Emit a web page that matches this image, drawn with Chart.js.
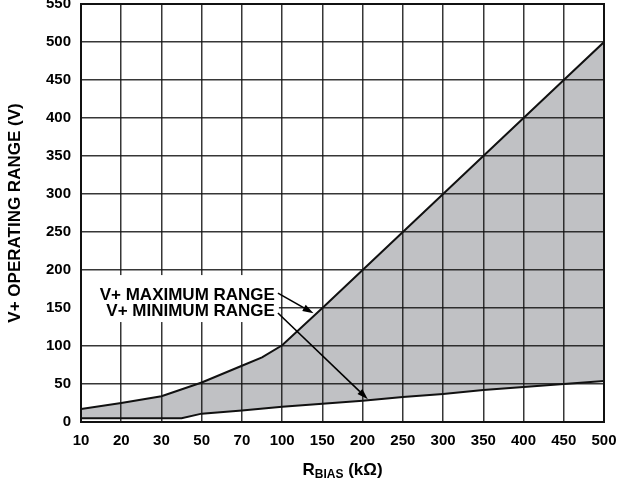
<!DOCTYPE html>
<html>
<head>
<meta charset="utf-8">
<script src="https://cdn.jsdelivr.net/npm/chart.js@4.4.1/dist/chart.umd.min.js"></script>
<style>
    html, body { margin: 0; padding: 0; background: #fff; }
</style>
</head>
<body>
<canvas id="rangeChart" width="618" height="488"></canvas>
<script>
// x axis tick labels, RBIAS in kOhm (evenly spaced on the chart)
const rBiasTicks = [10, 20, 30, 50, 70, 100, 150, 200, 250, 300, 350, 400, 450, 500];

// V+ maximum range: where it sits along the axis (in tick steps) and volts
const maxRangeAt = [0, 1, 2, 3, 4, 4.5, 5, 6, 7, 8, 9, 10, 11, 12, 13];
const maxRangeV = [17, 25, 34, 52, 74, 85, 101, 150, 200, 250, 300, 350, 400, 450, 500];

// V+ minimum range
const minRangeAt = [0, 1, 2, 2.5, 3, 4, 5, 6, 7, 8, 9, 10, 11, 12, 13];
const minRangeV = [5, 5, 5, 5, 11, 15, 20, 24, 28, 33, 37, 42, 46, 50, 54];

const FONT = '"Liberation Sans", Arial, sans-serif';

function toPoints(at, v) {
    return at.map((a, i) => ({ x: a, y: v[i] }));
}

// arrow from (x1,y1) to (x2,y2) with a filled head
function arrow(ctx, x1, y1, x2, y2) {
    const ang = Math.atan2(y2 - y1, x2 - x1);
    const len = 11, half = 3.5;
    ctx.beginPath();
    ctx.moveTo(x1, y1);
    ctx.lineTo(x2 - Math.cos(ang) * len, y2 - Math.sin(ang) * len);
    ctx.stroke();
    ctx.beginPath();
    ctx.moveTo(x2, y2);
    ctx.lineTo(x2 - Math.cos(ang) * len - Math.sin(ang) * half, y2 - Math.sin(ang) * len + Math.cos(ang) * half);
    ctx.lineTo(x2 - Math.cos(ang) * len + Math.sin(ang) * half, y2 - Math.sin(ang) * len - Math.cos(ang) * half);
    ctx.closePath();
    ctx.fill();
}

const annotations = {
    id: 'annotations',
    afterDraw(chart) {
        const { ctx, chartArea: a, scales: { x, y } } = chart;
        ctx.save();

        // labels with a white box behind them
        const textRight = x.getPixelForValue(4.82);
        const maxY = y.getPixelForValue(167);
        const minY = y.getPixelForValue(146);
        ctx.fillStyle = '#fff';
        ctx.fillRect(a.left + 1, maxY - 20, textRight + 3 - a.left, minY - maxY + 31);

        ctx.fillStyle = '#000';
        ctx.font = 'bold 17px ' + FONT;
        ctx.textAlign = 'right';
        ctx.textBaseline = 'middle';
        ctx.fillText('V+ MAXIMUM RANGE', textRight, maxY);
        ctx.fillText('V+ MINIMUM RANGE', textRight, minY);

        ctx.strokeStyle = '#000';
        ctx.lineWidth = 1.6;
        arrow(ctx, textRight + 3, maxY - 2, x.getPixelForValue(5.78), y.getPixelForValue(143));
        arrow(ctx, textRight + 3, minY + 2, x.getPixelForValue(7.13), y.getPixelForValue(30));

        // frame
        ctx.lineWidth = 2;
        ctx.strokeStyle = '#111';
        ctx.strokeRect(a.left, a.top, a.right - a.left, a.bottom - a.top);

        // y axis title
        ctx.save();
        ctx.translate(15, (a.top + a.bottom) / 2);
        ctx.rotate(-Math.PI / 2);
        ctx.textAlign = 'center';
        ctx.textBaseline = 'middle';
        ctx.font = 'bold 17px ' + FONT;
        ctx.fillText('V+ OPERATING RANGE (V)', 0, 0);
        ctx.restore();

        // x axis title: R with subscript BIAS
        const big = 'bold 17px ' + FONT, small = 'bold 12px ' + FONT;
        ctx.textAlign = 'left';
        ctx.textBaseline = 'alphabetic';
        ctx.font = big;
        const wR = ctx.measureText('R').width;
        const wTail = ctx.measureText(' (kΩ)').width;
        ctx.font = small;
        const wSub = ctx.measureText('BIAS').width;
        let tx = (a.left + a.right) / 2 - (wR + wSub + wTail) / 2;
        const base = 475;
        ctx.font = big;
        ctx.fillText('R', tx, base);
        tx += wR;
        ctx.font = small;
        ctx.fillText('BIAS', tx, base + 3);
        tx += wSub;
        ctx.font = big;
        ctx.fillText(' (kΩ)', tx, base);

        ctx.restore();
    }
};

const gridOpts = {
    color: 'rgba(20,20,20,0.85)',
    lineWidth: 1.5,
    drawTicks: false,
    z: 1
};

new Chart(document.getElementById('rangeChart').getContext('2d'), {
    type: 'line',
    data: {
        datasets: [
            {
                label: 'V+ MINIMUM RANGE',
                data: toPoints(minRangeAt, minRangeV),
                borderColor: '#111',
                borderWidth: 2,
                fill: false
            },
            {
                label: 'V+ MAXIMUM RANGE',
                data: toPoints(maxRangeAt, maxRangeV),
                borderColor: '#111',
                borderWidth: 2,
                backgroundColor: '#c0c1c4',
                fill: '-1'
            }
        ]
    },
    options: {
        responsive: false,
        animation: false,
        layout: { padding: { top: 4, right: 14, left: 0, bottom: 0 } },
        elements: { point: { radius: 0 }, line: { tension: 0 } },
        plugins: {
            legend: { display: false },
            tooltip: { enabled: false }
        },
        scales: {
            x: {
                type: 'linear',
                min: 0,
                max: rBiasTicks.length - 1,
                afterBuildTicks: s => { s.ticks = rBiasTicks.map((_, i) => ({ value: i })); },
                afterFit: s => {
                    s.height = 66;
                    s.paddingLeft = 0;
                    s.paddingRight = 0;
                },
                ticks: {
                    autoSkip: false,
                    maxRotation: 0,
                    padding: 10,
                    color: '#000',
                    font: { family: FONT, size: 15, weight: 'bold' },
                    callback: v => rBiasTicks[v]
                },
                grid: gridOpts,
                border: { display: false }
            },
            y: {
                min: 0,
                max: 550,
                afterFit: s => {
                    s.width = 81;
                    s.paddingTop = 0;
                    s.paddingBottom = 0;
                },
                ticks: {
                    stepSize: 50,
                    padding: 10,
                    color: '#000',
                    font: { family: FONT, size: 15, weight: 'bold' }
                },
                grid: gridOpts,
                border: { display: false }
            }
        }
    },
    plugins: [annotations]
});
</script>
</body>
</html>
